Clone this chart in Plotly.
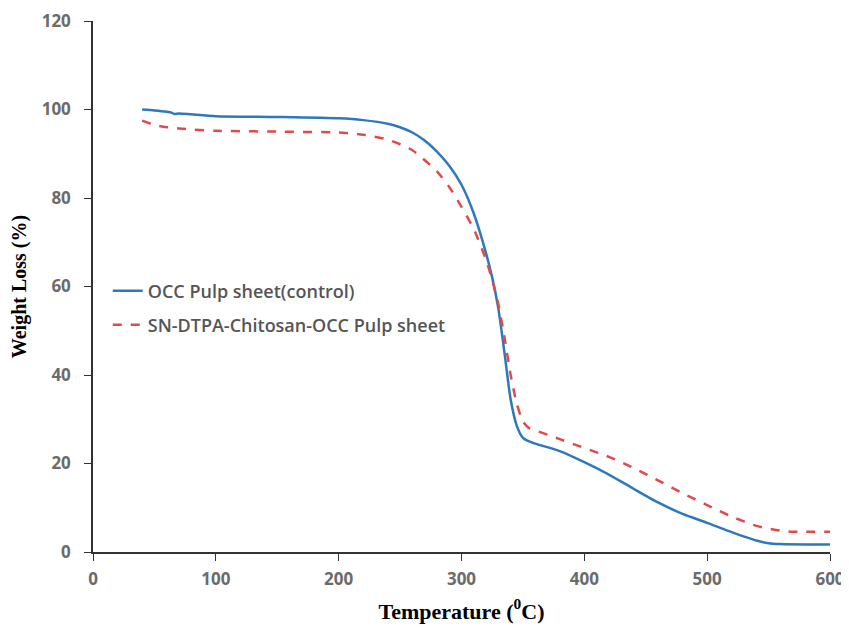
import plotly.graph_objects as go

temp_control = [40, 50, 60, 64, 66, 70, 80, 100, 150, 200, 220, 240, 250, 260, 270, 280, 290, 300, 310, 320, 325, 330, 335, 340, 345, 350, 355, 360, 380, 400, 420, 440, 460, 480, 500, 520, 540, 550, 560, 580, 600]
wt_control = [100, 99.8, 99.5, 99.3, 99.0, 99.1, 98.9, 98.5, 98.3, 98.0, 97.6, 96.8, 96.0, 94.8, 93.0, 90.5, 87.3, 83.0, 76.5, 67.5, 62.0, 55.0, 45.0, 34.5, 28.5, 25.8, 25.0, 24.5, 22.8, 20.3, 17.5, 14.3, 11.2, 8.6, 6.6, 4.5, 2.6, 2.0, 1.8, 1.7, 1.7]

temp_treated = [40, 50, 60, 80, 100, 150, 200, 220, 240, 260, 280, 290, 300, 310, 320, 325, 330, 335, 340, 345, 350, 355, 360, 380, 400, 420, 440, 460, 480, 500, 520, 540, 560, 570, 580, 600]
wt_treated = [97.5, 96.5, 96.0, 95.5, 95.2, 95.0, 94.8, 94.3, 93.2, 90.8, 86.0, 82.5, 78.0, 73.0, 66.0, 61.5, 56.0, 48.5, 40.0, 33.5, 29.5, 28.0, 27.5, 25.5, 23.5, 21.5, 19.0, 16.2, 13.3, 10.6, 8.0, 5.9, 4.8, 4.6, 4.6, 4.6]

x_ticks = [0, 100, 200, 300, 400, 500, 600]
y_ticks = [0, 20, 40, 60, 80, 100, 120]

fig = go.Figure()
fig.add_trace(go.Scatter(x=temp_control, y=wt_control, mode="lines", name="OCC Pulp sheet(control)",
                         line=dict(color="#2E78BD", width=2.5, shape="spline", smoothing=0.6),
                         legend="legend", showlegend=True))
fig.add_trace(go.Scatter(x=temp_treated, y=wt_treated, mode="lines", name="SN-DTPA-Chitosan-OCC Pulp sheet",
                         line=dict(color="#E24A4A", width=2.5, dash="dash", shape="spline", smoothing=0.6),
                         legend="legend2", showlegend=True))

tickfont = dict(family="Open Sans", size=17, color="#6B6B6B", weight="bold")
legfont = dict(family="Open Sans", size=18, color="#555555", weight=600)

fig.update_layout(
    width=841, height=620, showlegend=True,
    margin=dict(l=85, r=19, t=13, b=76),
    paper_bgcolor="white", plot_bgcolor="white",
    xaxis=dict(range=[0, 600], tickvals=x_ticks, showline=True, linecolor="#333", linewidth=1.5, automargin=False,
               ticks="outside", ticklen=7, tickcolor="#333", tickfont=tickfont, ticklabelstandoff=4,
               showgrid=False, zeroline=False,
               title=dict(text="<b>Temperature (<sup>0</sup>C)</b>", font=dict(family="Liberation Serif", size=22, color="black"), standoff=14)),
    yaxis=dict(range=[0, 120], tickvals=y_ticks, showline=True, linecolor="#333", linewidth=1.5, automargin=False,
               ticks="outside", ticklen=7, tickcolor="#333", tickfont=tickfont, ticklabelstandoff=10,
               showgrid=False, zeroline=False,
               title=dict(text="<b>Weight Loss (%)</b>", font=dict(family="Liberation Serif", size=20, color="black"), standoff=20)),
    legend=dict(x=0.02, y=0.4915, xanchor="left", yanchor="middle", font=legfont, bgcolor="rgba(0,0,0,0)"),
    legend2=dict(x=0.02, y=0.4275, xanchor="left", yanchor="middle", font=legfont, bgcolor="rgba(0,0,0,0)"),
)

fig.write_html("out.html")
